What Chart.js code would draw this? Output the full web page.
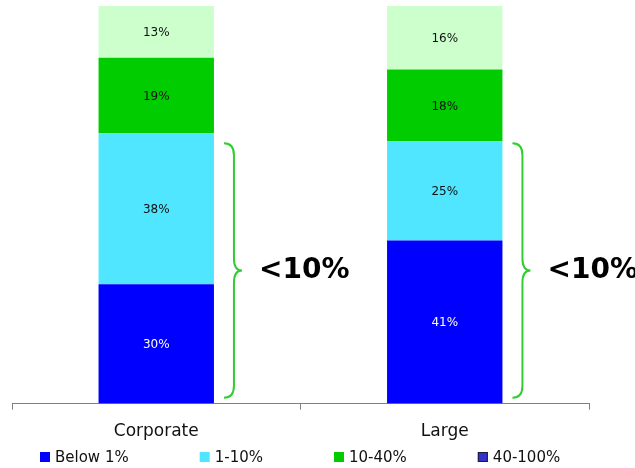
<!DOCTYPE html>
<html>
<head>
<meta charset="utf-8">
<script src="https://cdn.jsdelivr.net/npm/chart.js@4/dist/chart.umd.min.js"></script>
<style>
  html, body { margin: 0; padding: 0; background: #ffffff; }
  #wrap { width: 635px; height: 468px; position: relative; }
</style>
</head>
<body>
<div id="wrap"><canvas id="chart" width="635" height="468"></canvas></div>
<script>
// Share of companies by probability band, per segment (percent)
const categories = ['Corporate', 'Large'];
const seriesNames = ['Below 1%', '1-10%', '10-40%', '40-100%'];
const below1 = [30, 41];
const from1to10 = [38, 25];
const from10to40 = [19, 18];
const from40to100 = [13, 16];

const barColors = ['#0000FF', '#50E6FF', '#00CC00', '#CCFFCC'];
const legendColors = ['#0000FF', '#50E6FF', '#00CC00', '#3333CC'];
const labelColors = ['#FFFFFF', '#111111', '#111111', '#111111'];

// Bracket next to each bar, spanning the lower bands (value range on the y axis)
const bracketFrom = 1.5;
const bracketTo = 65.5;
const bracketText = '<10%';

const FONT = '"DejaVu Sans", Verdana, sans-serif';

// Percentage labels centred in each stacked segment
const segmentLabels = {
  id: 'segmentLabels',
  afterDatasetsDraw(chart) {
    const ctx = chart.ctx;
    ctx.save();
    ctx.font = '12px ' + FONT;
    ctx.textAlign = 'center';
    ctx.textBaseline = 'middle';
    chart.data.datasets.forEach((ds, di) => {
      const meta = chart.getDatasetMeta(di);
      meta.data.forEach((bar, i) => {
        const v = ds.data[i];
        ctx.fillStyle = labelColors[di];
        ctx.fillText(v + '%', bar.x, (bar.y + bar.base) / 2 + 1);
      });
    });
    ctx.restore();
  }
};

// Curly brace to the right of each bar with its caption
const braces = {
  id: 'braces',
  afterDatasetsDraw(chart) {
    const ctx = chart.ctx;
    const y = chart.scales.y;
    const yTop = y.getPixelForValue(bracketTo);
    const yBot = y.getPixelForValue(bracketFrom);
    const yMid = (yTop + yBot) / 2;
    const meta = chart.getDatasetMeta(0);
    ctx.save();
    meta.data.forEach((bar) => {
      const x0 = bar.x + bar.width / 2 + 10;
      const xs = x0 + 10;   // spine of the brace
      const xt = x0 + 18;   // tip
      const r = 12;
      ctx.beginPath();
      ctx.moveTo(x0, yTop);
      ctx.quadraticCurveTo(xs, yTop, xs, yTop + r);
      ctx.lineTo(xs, yMid - r);
      ctx.quadraticCurveTo(xs, yMid, xt, yMid);
      ctx.quadraticCurveTo(xs, yMid, xs, yMid + r);
      ctx.lineTo(xs, yBot - r);
      ctx.quadraticCurveTo(xs, yBot, x0, yBot);
      ctx.strokeStyle = '#33CC33';
      ctx.lineWidth = 2;
      ctx.stroke();

      ctx.fillStyle = '#000000';
      ctx.font = 'bold 28px ' + FONT;
      ctx.textAlign = 'left';
      ctx.textBaseline = 'middle';
      ctx.fillText(bracketText, xt + 17, yMid);
    });
    ctx.restore();
  }
};

// Legend row along the bottom edge
const bottomLegend = {
  id: 'bottomLegend',
  afterDraw(chart) {
    const ctx = chart.ctx;
    const area = chart.chartArea;
    const box = 10, textGap = 5, itemGap = 71;
    ctx.save();
    ctx.font = '15px ' + FONT;
    const widths = seriesNames.map(t => ctx.measureText(t).width);
    const total = widths.reduce((a, w) => a + box + textGap + w, 0) + itemGap * (seriesNames.length - 1);
    let x = Math.round((area.left + area.right) / 2 - total / 2);
    const yc = 457;
    ctx.textBaseline = 'middle';
    ctx.textAlign = 'left';
    seriesNames.forEach((name, i) => {
      ctx.fillStyle = legendColors[i];
      ctx.fillRect(x, yc - 5, box, box);
      if (i === 3) {
        ctx.strokeStyle = '#1A1A40';
        ctx.lineWidth = 1;
        ctx.strokeRect(x + 0.5, yc - 4.5, box - 1, box - 1);
      }
      ctx.fillStyle = '#111111';
      ctx.fillText(name, x + box + textGap, yc + 1);
      x += box + textGap + widths[i] + itemGap;
    });
    ctx.restore();
  }
};

const seriesData = [below1, from1to10, from10to40, from40to100];

new Chart(document.getElementById('chart'), {
  type: 'bar',
  data: {
    labels: categories,
    datasets: seriesNames.map((name, i) => ({
      label: name,
      data: seriesData[i],
      backgroundColor: barColors[i],
      borderWidth: 0,
      barPercentage: 0.4,
      categoryPercentage: 1.0
    }))
  },
  options: {
    responsive: false,
    animation: false,
    layout: { padding: { left: 12, right: 46, top: 6, bottom: 14 } },
    plugins: {
      legend: { display: false },
      tooltip: { enabled: false }
    },
    scales: {
      x: {
        stacked: true,
        offset: true,
        border: { display: true, color: '#808080', width: 1 },
        grid: {
          display: true,
          drawOnChartArea: false,
          drawTicks: true,
          tickLength: 6,
          color: '#808080',
          offset: true
        },
        ticks: {
          color: '#111111',
          font: { family: FONT, size: 17 },
          padding: 12
        }
      },
      y: {
        stacked: true,
        display: false,
        min: 0,
        max: 100
      }
    }
  },
  plugins: [segmentLabels, braces, bottomLegend]
});
</script>
</body>
</html>
